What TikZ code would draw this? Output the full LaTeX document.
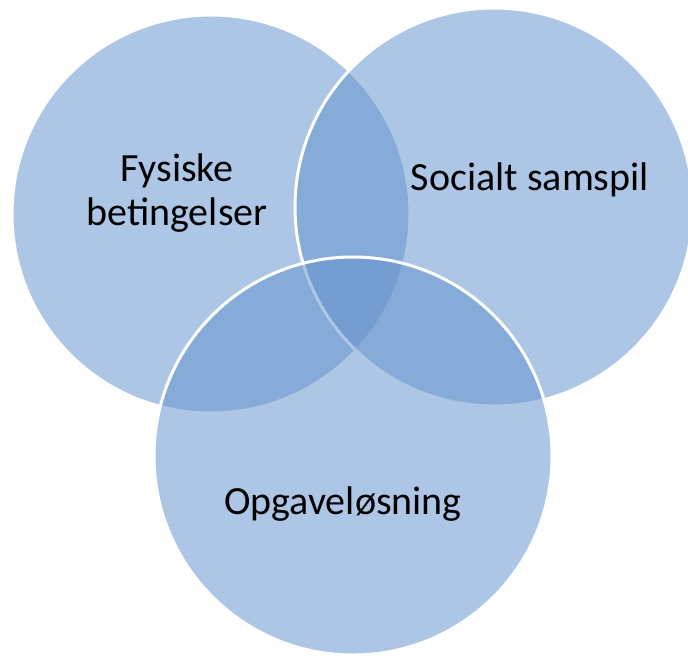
\documentclass[tikz,border=0pt]{standalone}
\usepackage{fontspec}
\setmainfont{Carlito}
\usetikzlibrary{positioning}

\definecolor{vennblue}{RGB}{99,146,205}

\begin{document}
\begin{tikzpicture}[x=1pt,y=-1pt,
    venn/.style={circle, minimum size=398pt, inner sep=0pt,
      fill=vennblue, fill opacity=0.52, draw=white, line width=3pt},
    vlabel/.style={align=center, text=black, font=\fontsize{40}{44}\selectfont}]
  \useasboundingbox (0,0) rectangle (688,657);

  %% the three circles, drawn in order
  \node[venn] (fysisk) at (211,214) {};
  \node[venn] (social) at (494,207) {};
  \node[venn] (opgave) at (353,456) {};

  %% texts
  \node[vlabel] (fysisktxt) at (177,193) {Fysiske\\betingelser};
  \node[vlabel] (socialtxt) at (530,180) {Socialt samspil};
  \node[vlabel] (opgavetxt) at (343,504) {Opgaveløsning};
\end{tikzpicture}
\end{document}
